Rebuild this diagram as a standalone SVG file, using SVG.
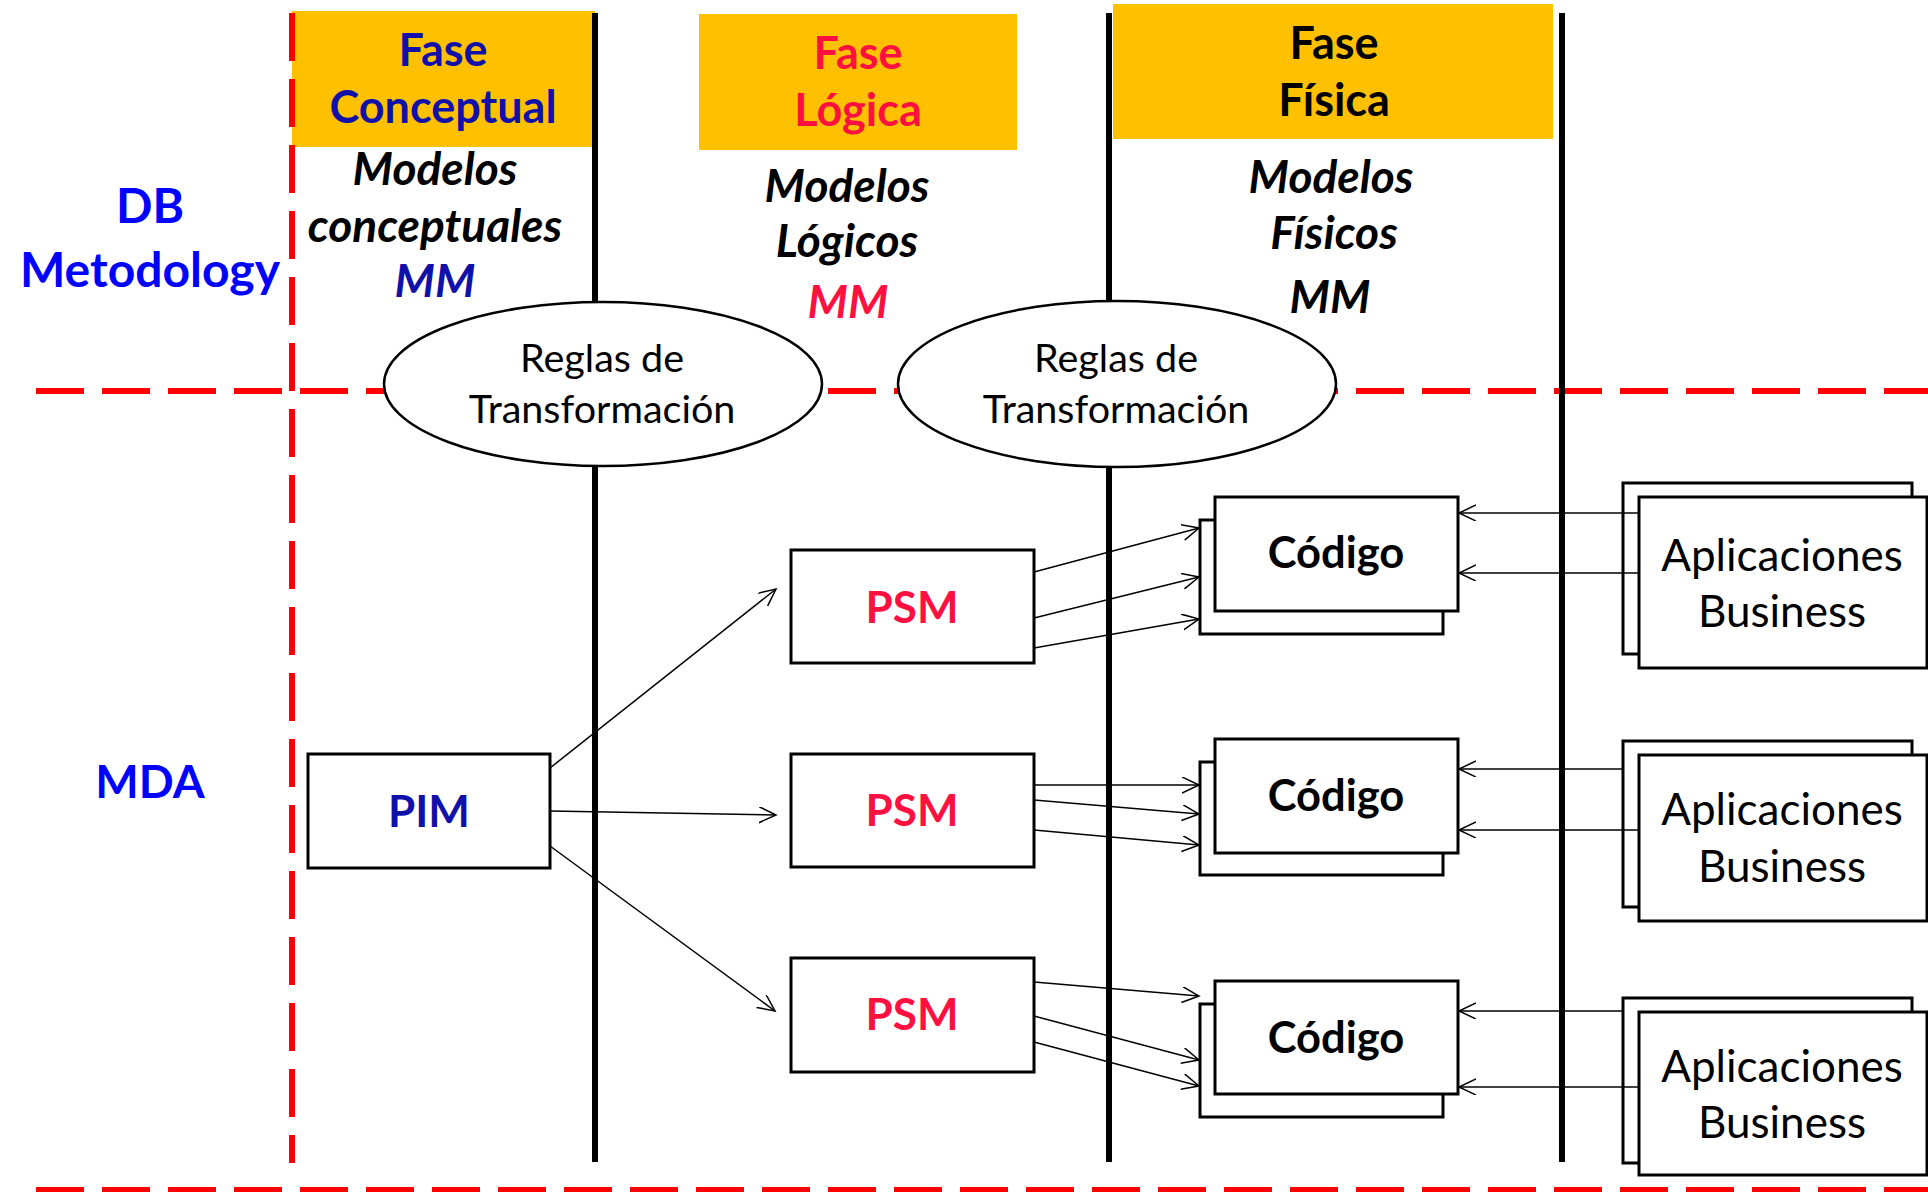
<svg xmlns="http://www.w3.org/2000/svg" width="1928" height="1192" viewBox="0 0 1928 1192">
  <style>
    text { font-family: Lato, "Open Sans", "Liberation Sans", sans-serif; text-anchor: middle; }
    .head { font-size: 45px; font-weight: bold; }
    .model { font-size: 46px; font-weight: bold; font-style: italic; }
    .side { font-size: 48px; font-weight: bold; fill: #0000FF; }
    .rule { font-size: 39.5px; fill: #000; }
    .box-title { font-size: 44px; font-weight: bold; }
    .code { font-size: 43.5px; font-weight: bold; fill: #000; }
    .app { font-size: 44px; fill: #000; }
    .dark-blue { fill: #1111AA; }
    .red { fill: #FF1040; }
    .black { fill: #000; }
    .phase { fill: #FFC000; }
    .box { fill: #fff; stroke: #000; stroke-width: 3; }
    .oval { fill: #fff; stroke: #000; stroke-width: 2.5; }
    .divider { stroke: #FF0000; stroke-width: 6; stroke-dasharray: 48 18; fill: none; }
    .column { stroke: #000; stroke-width: 6; }
    .link { stroke: #000; stroke-width: 1.5; fill: none; marker-end: url(#open-arrow); }
  </style>
  <defs>
    <marker id="open-arrow" markerUnits="userSpaceOnUse" markerWidth="20" markerHeight="20" refX="17" refY="8" orient="auto">
      <path d="M0,0 L17,8 L0,16" fill="none" stroke="#000" stroke-width="1.5"/>
    </marker>
  </defs>

  <rect width="1928" height="1192" fill="#fff"/>

  <!-- phase headers -->
  <g id="fase-conceptual">
    <rect class="phase" x="292" y="11" width="303" height="136"/>
    <text class="head dark-blue" x="443" y="66">Fase</text>
    <text class="head dark-blue" x="443" y="123">Conceptual</text>
  </g>
  <g id="fase-logica">
    <rect class="phase" x="699" y="14" width="318" height="136"/>
    <text class="head red" x="858" y="69">Fase</text>
    <text class="head red" x="858" y="126">Lógica</text>
  </g>
  <g id="fase-fisica">
    <rect class="phase" x="1113" y="4" width="440" height="135"/>
    <text class="head black" x="1334" y="59">Fase</text>
    <text class="head black" x="1334" y="116">Física</text>
  </g>

  <!-- region dividers -->
  <g id="dividers">
    <line class="divider" x1="36" y1="391" x2="1928" y2="391"/>
    <line class="divider" x1="36" y1="1190" x2="1928" y2="1190"/>
    <line class="divider" x1="292" y1="13" x2="292" y2="1163"/>
    <line class="column" x1="595" y1="13" x2="595" y2="1162"/>
    <line class="column" x1="1109" y1="13" x2="1109" y2="1162"/>
    <line class="column" x1="1562" y1="13" x2="1562" y2="1162"/>
  </g>

  <!-- row labels -->
  <g id="label-db">
    <text class="side" x="150" y="223">DB</text>
    <text class="side" x="150" y="287">Metodology</text>
  </g>
  <g id="label-mda">
    <text class="side" x="150" y="798" style="font-size:46px">MDA</text>
  </g>

  <!-- model captions -->
  <g id="modelos-conceptuales">
    <text class="model black" x="435" y="185">Modelos</text>
    <text class="model black" x="435" y="242">conceptuales</text>
    <text class="model dark-blue" x="435" y="297">MM</text>
  </g>
  <g id="modelos-logicos">
    <text class="model black" x="847" y="202">Modelos</text>
    <text class="model black" x="847" y="257">Lógicos</text>
    <text class="model red" x="848" y="318">MM</text>
  </g>
  <g id="modelos-fisicos">
    <text class="model black" x="1331" y="193">Modelos</text>
    <text class="model black" x="1334" y="249">Físicos</text>
    <text class="model black" x="1330" y="313">MM</text>
  </g>

  <!-- transformation rules -->
  <g id="reglas-1">
    <ellipse class="oval" cx="603" cy="384" rx="219" ry="82"/>
    <text class="rule" x="602" y="372">Reglas de</text>
    <text class="rule" x="602" y="423">Transformación</text>
  </g>
  <g id="reglas-2">
    <ellipse class="oval" cx="1117" cy="384" rx="219" ry="83"/>
    <text class="rule" x="1116" y="372">Reglas de</text>
    <text class="rule" x="1116" y="423">Transformación</text>
  </g>

  <!-- models -->
  <g id="pim">
    <rect class="box" x="308" y="754" width="242" height="114"/>
    <text class="box-title dark-blue" x="429" y="827">PIM</text>
  </g>
  <g id="psm-1">
    <rect class="box" x="791" y="550" width="243" height="113"/>
    <text class="box-title red" x="912" y="623">PSM</text>
  </g>
  <g id="psm-2">
    <rect class="box" x="791" y="754" width="243" height="113"/>
    <text class="box-title red" x="912" y="826">PSM</text>
  </g>
  <g id="psm-3">
    <rect class="box" x="791" y="958" width="243" height="114"/>
    <text class="box-title red" x="912" y="1030">PSM</text>
  </g>

  <!-- generated code stacks -->
  <g id="codigo-1">
    <rect class="box" x="1200" y="520" width="243" height="114"/>
    <rect class="box" x="1215" y="497" width="243" height="114"/>
    <text class="code" x="1336" y="568">Código</text>
  </g>
  <g id="codigo-2">
    <rect class="box" x="1200" y="762" width="243" height="113"/>
    <rect class="box" x="1215" y="739" width="243" height="114"/>
    <text class="code" x="1336" y="811">Código</text>
  </g>
  <g id="codigo-3">
    <rect class="box" x="1200" y="1004" width="243" height="113"/>
    <rect class="box" x="1215" y="981" width="243" height="113"/>
    <text class="code" x="1336" y="1053">Código</text>
  </g>

  <!-- business application stacks -->
  <g id="aplicaciones-1">
    <rect class="box" x="1623" y="483" width="289" height="171"/>
    <rect class="box" x="1639" y="497" width="288" height="171"/>
    <text class="app" x="1782" y="571">Aplicaciones</text>
    <text class="app" x="1782" y="627">Business</text>
  </g>
  <g id="aplicaciones-2">
    <rect class="box" x="1623" y="741" width="289" height="166"/>
    <rect class="box" x="1639" y="755" width="288" height="166"/>
    <text class="app" x="1782" y="825">Aplicaciones</text>
    <text class="app" x="1782" y="882">Business</text>
  </g>
  <g id="aplicaciones-3">
    <rect class="box" x="1623" y="998" width="289" height="165"/>
    <rect class="box" x="1639" y="1012" width="288" height="163"/>
    <text class="app" x="1782" y="1082">Aplicaciones</text>
    <text class="app" x="1782" y="1138">Business</text>
  </g>

  <!-- connectors -->
  <g id="connectors">
    <line class="link" x1="550" y1="768" x2="776" y2="589"/>
    <line class="link" x1="550" y1="811" x2="776" y2="815"/>
    <line class="link" x1="550" y1="846" x2="775" y2="1011"/>

    <line class="link" x1="1034" y1="572" x2="1199" y2="528"/>
    <line class="link" x1="1034" y1="618" x2="1199" y2="577"/>
    <line class="link" x1="1034" y1="648" x2="1199" y2="619"/>

    <line class="link" x1="1034" y1="785" x2="1199" y2="785"/>
    <line class="link" x1="1034" y1="800" x2="1199" y2="814"/>
    <line class="link" x1="1034" y1="830" x2="1199" y2="845"/>

    <line class="link" x1="1034" y1="982" x2="1199" y2="996"/>
    <line class="link" x1="1034" y1="1016" x2="1199" y2="1060"/>
    <line class="link" x1="1034" y1="1042" x2="1199" y2="1086"/>

    <line class="link" x1="1639" y1="513" x2="1459" y2="513"/>
    <line class="link" x1="1639" y1="573" x2="1459" y2="573"/>
    <line class="link" x1="1623" y1="769" x2="1459" y2="769"/>
    <line class="link" x1="1639" y1="830" x2="1459" y2="830"/>
    <line class="link" x1="1623" y1="1011" x2="1459" y2="1011"/>
    <line class="link" x1="1639" y1="1087" x2="1459" y2="1087"/>
  </g>
</svg>
